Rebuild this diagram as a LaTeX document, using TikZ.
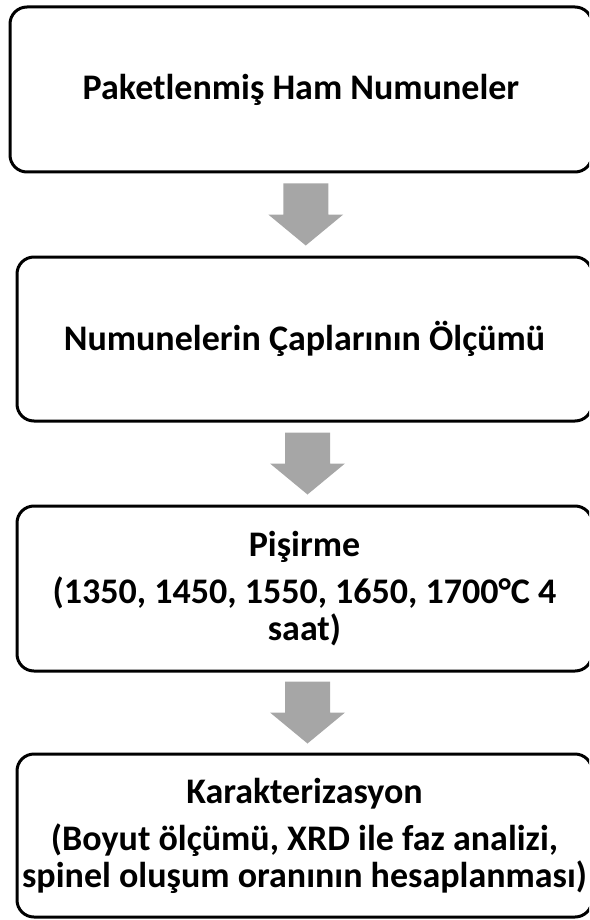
\documentclass[tikz,border=0pt]{standalone}
\usepackage{fontspec}
\setmainfont{Carlito}
\usetikzlibrary{calc}
\definecolor{arrowgray}{HTML}{A6A6A6}
\tikzset{
  stepbox/.style={draw, line width=3pt, rounded corners=17pt, inner sep=0pt,
    align=center, font=\fontsize{36}{37}\selectfont\bfseries},
}
% grey block arrow between two boxes
\newcommand{\flowarrow}[2]{%
  \path ($(#1.south)!0.5!(#2.north)+(3,0)$) coordinate (mid);
  \fill[arrowgray] ($(mid)+(-22.5,-31)$) -- ($(mid)+(22.5,-31)$) -- ($(mid)+(22.5,0)$)
    -- ($(mid)+(37.5,0)$) -- ($(mid)+(0,31)$) -- ($(mid)+(-37.5,0)$)
    -- ($(mid)+(-22.5,0)$) -- cycle;}

\begin{document}
\begin{tikzpicture}[x=1pt,y=-1pt]
  \clip (0,0) rectangle (589,920);
  \node[stepbox, minimum width=582pt, minimum height=165pt] (raw) at (301,89.5)
    {Paketlenmiş Ham Numuneler};
  \node[stepbox, minimum width=575pt, minimum height=164pt] (diam) at (304.5,339)
    {Numunelerin Çaplarının Ölçümü};
  \node[stepbox, minimum width=575pt, minimum height=165pt] (fire) at (304.5,588.5)
    {Pişirme\\[10pt] (1350, 1450, 1550, 1650, 1700°C 4\\ saat)};
  \node[stepbox, minimum width=575pt, minimum height=163pt] (char) at (304.5,835.5)
    {Karakterizasyon\\[10pt] (Boyut ölçümü, XRD ile faz analizi,\\ spinel oluşum oranının hesaplanması)};
  \flowarrow{raw}{diam}
  \flowarrow{diam}{fire}
  \flowarrow{fire}{char}
\end{tikzpicture}
\end{document}
